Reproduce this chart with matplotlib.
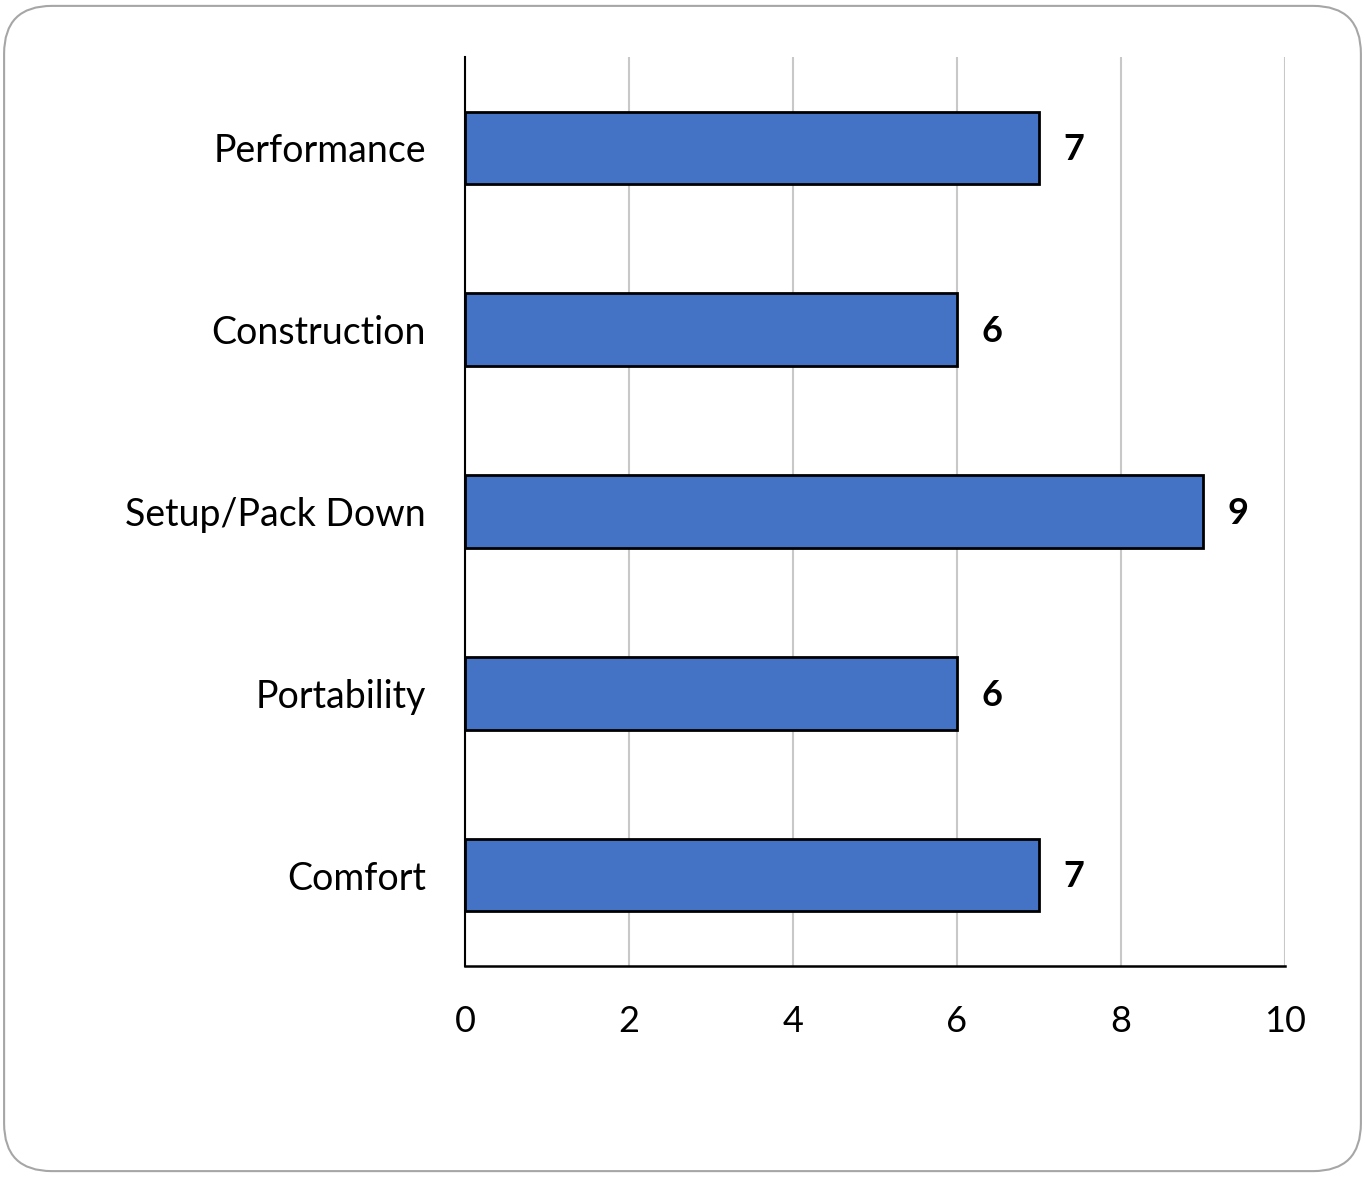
import matplotlib
matplotlib.use("Agg")
import matplotlib.pyplot as plt
from matplotlib.patches import FancyBboxPatch

# data, top to bottom as in the picture
categories = ["Performance", "Construction", "Setup/Pack Down", "Portability", "Comfort"]
scores = [7, 6, 9, 6, 7]
x_ticks = [0, 2, 4, 6, 8, 10]

plt.rcParams['font.family'] = ['Lato', 'DejaVu Sans']

fig = plt.figure(figsize=(13.65, 11.77), dpi=100)

# rounded frame around the whole chart
frame = FancyBboxPatch((0.003, 0.005), 0.994, 0.99,
                       boxstyle="round,pad=0,rounding_size=0.035",
                       transform=fig.transFigure, facecolor="white",
                       edgecolor="#A6A6A6", linewidth=1.5, zorder=-10,
                       mutation_aspect=1365 / 1177)
fig.patches.append(frame)

ax = fig.add_axes([0.3407, 0.1793, 0.6007, 0.7723])
ax.set_facecolor("none")

ypos = list(range(len(categories)))[::-1]
bars = ax.barh(ypos, scores, height=0.4, color="#4472C4",
               edgecolor="black", linewidth=2, zorder=3)

for y, v in zip(ypos, scores):
    ax.text(v + 0.3, y - 0.01, str(v), va="center", ha="left",
            fontsize=26, fontweight="bold", color="black")

ax.set_xlim(0, 10)
ax.set_ylim(-0.5, 4.5)
ax.set_xticks(x_ticks)
ax.set_xticklabels([str(t) for t in x_ticks], fontsize=26)
ax.set_yticks(ypos)
ax.set_yticklabels(categories, fontsize=27)
ax.tick_params(axis="both", length=0)
ax.tick_params(axis="x", pad=28)
ax.tick_params(axis="y", pad=28)

ax.grid(axis="x", color="#C8C8C8", linewidth=1.5, zorder=0)
ax.spines["top"].set_visible(False)
ax.spines["right"].set_visible(False)
ax.spines["left"].set_linewidth(1.5)
ax.spines["bottom"].set_linewidth(1.8)

fig.savefig("out.png", dpi=100)
